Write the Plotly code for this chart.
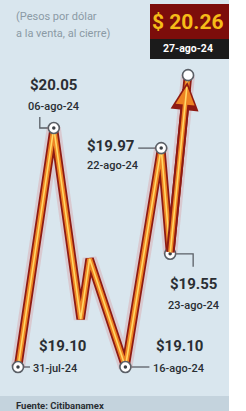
import plotly.graph_objects as go

# ---- data ----
fechas = ["31-jul-24", "06-ago-24", "09-ago-24", "12-ago-24", "16-ago-24", "22-ago-24", "23-ago-24", "27-ago-24"]
dia_habil = [0, 4, 7, 8, 12, 16, 17, 19]          # trading-day index since 31-jul-24
valores = [19.10, 20.05, 19.29, 19.53, 19.10, 19.97, 19.55, 20.26]
etiquetados = [0, 1, 4, 5, 6]                       # points with label (index into lists)
subtitulo = ["(Pesos por dólar", "a la venta, al cierre)"]
fuente = "Fuente: Citibanamex"

W, H = 246, 411
BG = "#d9e6ee"
FONT = "Roboto, sans-serif"
DARK = "#2a2e33"

fig = go.Figure()

# layered line (glow, dark red, orange, yellow core)
for w, c in [(14, "rgba(215,70,70,0.18)"), (8.5, "#8e1a12"), (5, "#ee8424"), (1.6, "#ffd866")]:
    fig.add_trace(go.Scatter(x=dia_habil, y=valores, mode="lines",
                             line=dict(color=c, width=w), hoverinfo="skip", showlegend=False))

# markers
mx = [dia_habil[i] for i in etiquetados] + [dia_habil[-1]]
my = [valores[i] for i in etiquetados] + [valores[-1]]
fig.add_trace(go.Scatter(x=mx, y=my, mode="markers",
                         marker=dict(symbol="circle", size=11, color="white",
                                     line=dict(color="#5a5f66", width=1.6)),
                         hoverinfo="skip", showlegend=False))
fig.add_trace(go.Scatter(x=[dia_habil[i] for i in etiquetados], y=[valores[i] for i in etiquetados],
                         mode="markers", marker=dict(symbol="circle", size=3.5, color="#3a3f45"),
                         hoverinfo="skip", showlegend=False))

annotations = []
# arrow head on last segment
for wdt, col, size, so in [(8.5, "#8e1a12", 0.66, 7), (4.5, "#ee8424", 0.85, 10.5), (1.6, "#ffd866", 0.01, 12)]:
    annotations.append(dict(x=dia_habil[-1], y=valores[-1], ax=dia_habil[-2], ay=valores[-2],
                            xref="x", yref="y", axref="x", ayref="y", text="",
                            showarrow=True, arrowhead=2 if size > 0.1 else 0,
                            arrowwidth=wdt, arrowsize=max(size, 0.3), arrowcolor=col, standoff=so))

# value / date labels: (index, value shift x, y, anchor, date shift x, y, anchor)
lab = {
    0: (44, 21, "center", 13, -1, "left"),
    1: (0, 43, "center", 0, 21, "center"),
    4: (54, 21, "center", 26, -1, "left"),
    5: (-25, 2, "right", -21, -17, "right"),
    6: (23, -30, "center", 23, -52, "center"),
}
for i, (vx, vy, va, dx, dy, da) in lab.items():
    annotations.append(dict(x=dia_habil[i], y=valores[i], xref="x", yref="y", showarrow=False,
                            text=f"<b>${valores[i]:.2f}</b>", xshift=vx, yshift=vy, xanchor=va,
                            yanchor="middle", font=dict(family=FONT, size=15, color=DARK)))
    annotations.append(dict(x=dia_habil[i], y=valores[i], xref="x", yref="y", showarrow=False,
                            text=fechas[i], xshift=dx, yshift=dy, xanchor=da,
                            yanchor="middle", font=dict(family=FONT, size=11, color=DARK, weight=500)))

# subtitle
for k, t in enumerate(subtitulo):
    annotations.append(dict(x=14 / W, y=1 - (17 + 16 * k) / H, xref="paper", yref="paper",
                            text=t, showarrow=False, xanchor="left", yanchor="middle",
                            font=dict(family=FONT, size=11, color="#8b9aa5")))

# highlight box
annotations.append(dict(x=188 / W, y=1 - 22 / H, xref="paper", yref="paper",
                        text=f"<b>$ {valores[-1]:.2f}</b>", showarrow=False,
                        xanchor="center", yanchor="middle",
                        font=dict(family=FONT, size=21, color="#f5bb18")))
annotations.append(dict(x=188 / W, y=1 - 49 / H, xref="paper", yref="paper",
                        text=f"<b>{fechas[-1]}</b>", showarrow=False,
                        xanchor="center", yanchor="middle",
                        font=dict(family=FONT, size=10.5, color="white")))
annotations.append(dict(x=14 / W, y=1 - 398 / H, xref="paper", yref="paper",
                        text=f"<b>{fuente}</b>", showarrow=False,
                        xanchor="left", yanchor="top",
                        font=dict(family=FONT, size=9.5, color=DARK)))

shapes = [
    dict(type="rect", xref="paper", yref="paper", x0=0, x1=229 / W, y0=1 - 396 / H, y1=1,
         fillcolor=BG, line_width=0, layer="below"),
    dict(type="rect", xref="paper", yref="paper", x0=0, x1=229 / W, y0=0, y1=1 - 396 / H,
         fillcolor="#c4d3dd", line_width=0, layer="below"),
    dict(type="rect", xref="paper", yref="paper", x0=150 / W, x1=229 / W, y0=1 - 39 / H, y1=1 - 4 / H,
         fillcolor="#7c0d0b", line_width=0),
    dict(type="rect", xref="paper", yref="paper", x0=150 / W, x1=229 / W, y0=1 - 59 / H, y1=1 - 39 / H,
         fillcolor="#1b1b1b", line_width=0),
]
# leader lines (pixel offsets from each labelled point)
leaders = {
    0: "M 6 0 L 12 0",
    1: "M -14 11 L -14 0 L -6 0",
    4: "M 6 0 L 24 0",
    5: "M -23 0 L -6 0",
    6: "M 6 0 L 23 0 L 23 -13",
}
for i, p in leaders.items():
    shapes.append(dict(type="path", xref="x", yref="y", xsizemode="pixel", ysizemode="pixel",
                       xanchor=dia_habil[i], yanchor=valores[i], path=p,
                       line=dict(color="#5a5f66", width=1.3), layer="below"))

px_per_day = 8.95
x0 = dia_habil[0] - 18 / px_per_day
px_per_peso = 251.6
ytop = valores[0] + 367 / px_per_peso

fig.update_layout(
    width=W, height=H, margin=dict(l=0, r=0, t=0, b=0),
    paper_bgcolor="white", plot_bgcolor="rgba(0,0,0,0)",
    xaxis=dict(range=[x0, x0 + W / px_per_day], visible=False, fixedrange=True),
    yaxis=dict(range=[ytop - H / px_per_peso, ytop], visible=False, fixedrange=True),
    shapes=shapes, annotations=annotations, showlegend=False,
)
fig.write_html("out.html", config={"displayModeBar": False},
               post_script="document.body.style.margin='0';document.body.style.overflow='hidden';")
